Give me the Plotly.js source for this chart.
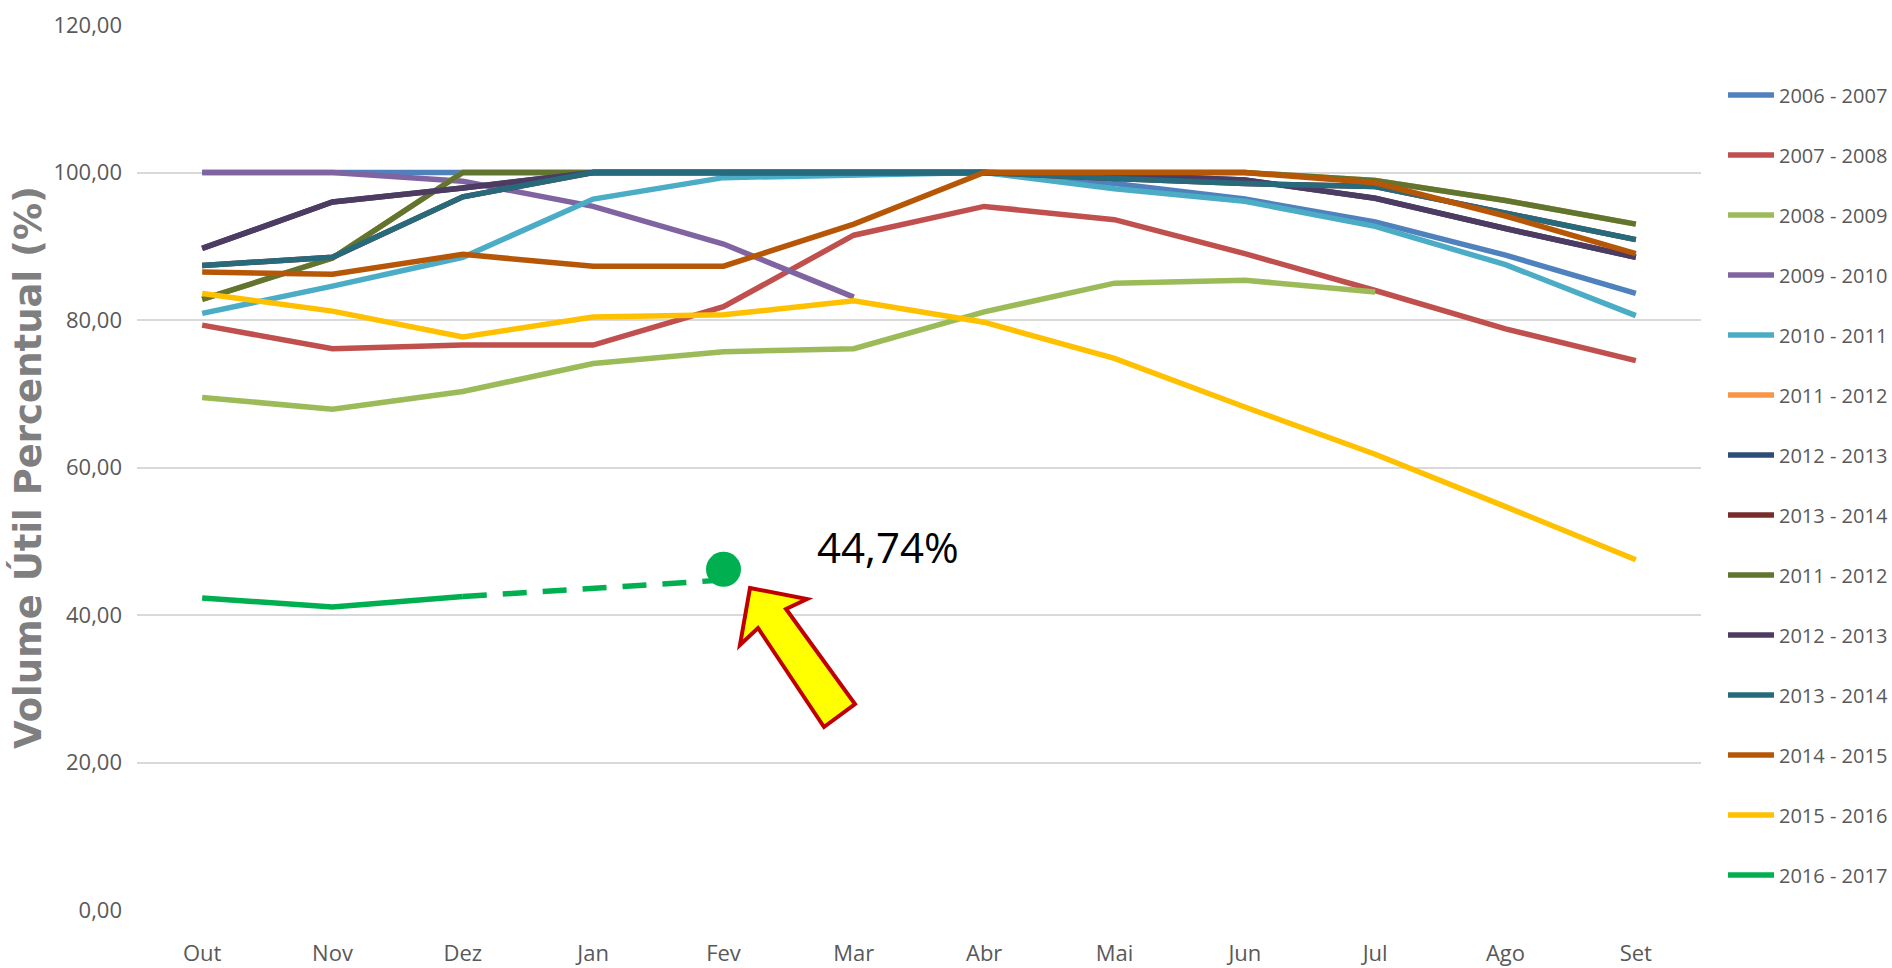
<!DOCTYPE html>
<html>
<head>
<meta charset="utf-8">
<script src="https://cdn.plot.ly/plotly-3.0.1.min.js"></script>
<style>
  html, body { margin: 0; padding: 0; background: #fff; }
  #chart { width: 1892px; height: 968px; }
</style>
</head>
<body>
<div id="chart"></div>
<script>
// meses do ano hidrológico (Out -> Set)
const months = ['Out', 'Nov', 'Dez', 'Jan', 'Fev', 'Mar', 'Abr', 'Mai', 'Jun', 'Jul', 'Ago', 'Set'];

// volume útil (%) por ano hidrológico
const v0607 = [100, 100, 100, 100, 100, 100, 100, 98.5, 96.4, 93.3, 88.8, 83.6];
const v0708 = [79.3, 76.1, 76.6, 76.6, 81.8, 91.5, 95.4, 93.6, 89.0, 84.0, 78.8, 74.5];
const v0809 = [69.5, 67.9, 70.3, 74.1, 75.7, 76.1, 81.1, 85.0, 85.4, 83.8, null, null];
const v0910 = [100, 100, 98.8, 95.4, 90.3, 83.1, null, null, null, null, null, null];
const v1011 = [80.9, 84.6, 88.5, 96.4, 99.3, 99.7, 100, 97.8, 96.1, 92.7, 87.5, 80.6];
// estas três séries ficam escondidas por baixo das repetidas mais adiante
const v1112a = [82.8, 88.4, 100, 100, 100, 100, 100, 100, 100, 98.9, 96.2, 93.0];
const v1213a = [89.7, 96.0, 97.9, 100, 100, 100, 100, 99.7, 99.0, 96.5, 92.4, 88.5];
const v1314a = [87.4, 88.5, 96.7, 100, 100, 100, 100, 99.2, 98.5, 98.1, 94.5, 90.9];
const v1112 = [82.8, 88.4, 100, 100, 100, 100, 100, 100, 100, 98.9, 96.2, 93.0];
const v1213 = [89.7, 96.0, 97.9, 100, 100, 100, 100, 99.7, 99.0, 96.5, 92.4, 88.5];
const v1314 = [87.4, 88.5, 96.7, 100, 100, 100, 100, 99.2, 98.5, 98.1, 94.5, 90.9];
const v1415 = [86.5, 86.2, 88.9, 87.3, 87.3, 93.0, 100, 100, 100, 98.6, 94.1, 89.0];
const v1516 = [83.6, 81.2, 77.7, 80.4, 80.7, 82.6, 79.7, 74.8, 68.2, 61.8, 54.7, 47.5];
const v1617 = [42.3, 41.1, 42.5, null, null, null, null, null, null, null, null, null];

// projeção tracejada e ponto destacado
const projMonths = ['Dez', 'Fev'];
const projVals = [42.5, 44.74];
const dotMonth = ['Fev'];
const dotVal = [46.2];
const dotLabel = '44,74%';

const seriesNames = ['2006 - 2007', '2007 - 2008', '2008 - 2009', '2009 - 2010', '2010 - 2011',
  '2011 - 2012', '2012 - 2013', '2013 - 2014', '2011 - 2012', '2012 - 2013', '2013 - 2014',
  '2014 - 2015', '2015 - 2016', '2016 - 2017'];
const seriesVals = [v0607, v0708, v0809, v0910, v1011, v1112a, v1213a, v1314a,
  v1112, v1213, v1314, v1415, v1516, v1617];
const seriesColors = ['#4F81BD', '#C0504D', '#9BBB59', '#8064A2', '#4BACC6', '#F79646',
  '#2C4D75', '#772C2A', '#5F7530', '#4D3B62', '#276A7C', '#B65708', '#FFC000', '#00B050'];

// margens da área de plotagem (px)
const W = 1892, H = 968;
const M = { l: 137, r: 191, t: 25, b: 58, autoexpand: false };
const pw = W - M.l - M.r, ph = H - M.t - M.b;
const px = x => (x - M.l) / pw;
const py = y => (H - M.b - y) / ph;

const labelFont = '"Open Sans", sans-serif';

const traces = seriesNames.map((name, i) => ({
  type: 'scatter',
  mode: 'lines',
  name: name,
  legendgroup: 'g' + i,
  x: months,
  y: seriesVals[i],
  line: { color: seriesColors[i], width: 5.5 }
}));

traces.push({
  type: 'scatter', mode: 'lines', showlegend: false,
  x: projMonths, y: projVals,
  line: { color: '#00B050', width: 5.5, dash: '24px,16px' }
});
traces.push({
  type: 'scatter', mode: 'markers', showlegend: false,
  x: dotMonth, y: dotVal,
  marker: { color: '#00B050', size: 35 }
});

// seta amarela apontando para o ponto
const arrowPts = [[750, 588], [807, 599], [786, 609], [855, 704], [824, 727], [758, 628], [740, 645]];
const arrowPath = arrowPts.map((p, i) => (i ? 'L' : 'M') + px(p[0]).toFixed(5) + ',' + py(p[1]).toFixed(5)).join(' ') + ' Z';

const layout = {
  width: W, height: H,
  margin: M,
  paper_bgcolor: '#ffffff',
  plot_bgcolor: '#ffffff',
  separators: ',.',
  showlegend: true,
  xaxis: {
    type: 'category',
    categoryorder: 'array',
    categoryarray: months,
    range: [-0.5, 11.5],
    showgrid: false, zeroline: false, showline: false,
    ticks: '',
    ticklabelstandoff: 28,
    tickfont: { family: labelFont, size: 22, color: '#595959' }
  },
  yaxis: {
    range: [0, 120],
    dtick: 20,
    tickformat: '.2f',
    showgrid: true,
    gridcolor: '#D9D9D9',
    gridwidth: 2,
    zeroline: false, showline: false,
    ticks: '',
    ticklabelstandoff: 14,
    tickfont: { family: labelFont, size: 22, color: '#595959' },
    title: {
      text: 'Volume Útil Percentual (%)',
      font: { family: '"DejaVu Sans", sans-serif', size: 37, color: '#7F7F7F', weight: 'bold' },
      standoff: 0
    }
  },
  legend: {
    x: px(1723), xanchor: 'left',
    y: 0.943, yanchor: 'top',
    traceorder: 'grouped',
    tracegroupgap: 31,
    itemwidth: 46,
    font: { family: labelFont, size: 20, color: '#595959' },
    bgcolor: 'rgba(0,0,0,0)'
  },
  shapes: [{
    type: 'path', xref: 'paper', yref: 'paper',
    path: arrowPath,
    fillcolor: '#FFFF00',
    line: { color: '#C00000', width: 4 }
  }],
  annotations: [{
    xref: 'paper', yref: 'paper',
    x: px(887.5), y: py(546),
    xanchor: 'center', yanchor: 'middle',
    text: dotLabel, showarrow: false,
    font: { family: '"Open Sans", sans-serif', size: 42, color: '#000000' }
  }]
};

Plotly.newPlot('chart', traces, layout, { displayModeBar: false, staticPlot: true });
</script>
</body>
</html>
